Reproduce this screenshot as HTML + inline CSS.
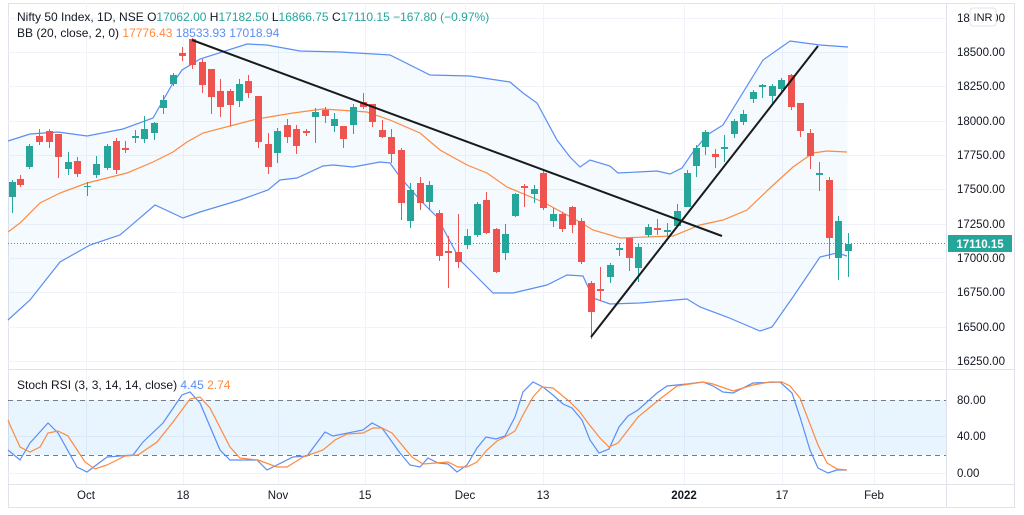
<!DOCTYPE html>
<html><head><meta charset="utf-8"><style>
html,body{margin:0;padding:0;background:#fff;width:1024px;height:515px;overflow:hidden}
svg{display:block;font-family:"Liberation Sans","DejaVu Sans",sans-serif}
</style></head><body>
<svg id="c" width="1024" height="515" viewBox="0 0 1024 515" xmlns="http://www.w3.org/2000/svg">
<rect x="0" y="0" width="1024" height="515" fill="#fff"/>
<rect x="8.5" y="3.5" width="1006" height="504" fill="none" stroke="#e0e3eb"/>
<g id="grid" stroke="#f0f3fa" stroke-width="1"></g>
<line x1="946.5" y1="3" x2="946.5" y2="508" stroke="#e0e3eb"/>
<line x1="8" y1="369.5" x2="1014" y2="369.5" stroke="#e0e3eb"/>
<line x1="8" y1="484.5" x2="1014" y2="484.5" stroke="#e0e3eb"/>
<polygon id="band" fill="#2196f3" fill-opacity="0.05"/>
<polyline id="mid" fill="none" stroke="#ff8a3d" stroke-width="1.2"/>
<polyline id="up" fill="none" stroke="#5b8ef5" stroke-width="1.2"/>
<polyline id="lo" fill="none" stroke="#5b8ef5" stroke-width="1.2"/>
<line x1="8" y1="243.5" x2="946" y2="243.5" stroke="#26a69a" stroke-dasharray="1,2"/>
<g id="candles"></g>
<line x1="192" y1="40" x2="722" y2="236" stroke="#1a1a1a" stroke-width="2"/>
<line x1="591" y1="337" x2="818" y2="46" stroke="#1a1a1a" stroke-width="2"/>
<rect x="8" y="400" width="938" height="55" fill="#2196f3" fill-opacity="0.1"/>
<line x1="8" y1="400.5" x2="946" y2="400.5" stroke="#787b86" stroke-dasharray="5,4"/>
<line x1="8" y1="455.5" x2="946" y2="455.5" stroke="#787b86" stroke-dasharray="5,4"/>
<polyline id="rk" fill="none" stroke="#5b8ef5" stroke-width="1.2"/>
<polyline id="rd" fill="none" stroke="#ff8a3d" stroke-width="1.2"/>
<g font-size="12" fill="#131722">
<text x="17" y="21">Nifty 50 Index, 1D, NSE <tspan fill="#131722">O</tspan><tspan fill="#26a69a">17062.00</tspan> H<tspan fill="#26a69a">17182.50</tspan> L<tspan fill="#26a69a">16866.75</tspan> C<tspan fill="#26a69a">17110.15</tspan> <tspan fill="#26a69a">−167.80 (−0.97%)</tspan></text>
<text x="17" y="37">BB (20, close, 2, 0) <tspan fill="#ff8a3d">17776.43</tspan> <tspan fill="#5b8ef5">18533.93</tspan> <tspan fill="#5b8ef5">17018.94</tspan></text>
<text x="17" y="389">Stoch RSI (3, 3, 14, 14, close) <tspan fill="#5b8ef5">4.45</tspan> <tspan fill="#ff8a3d">2.74</tspan></text>
</g>
<g font-size="11.5" fill="#131722">
<text x="957" y="22">18750.00</text>
<text x="957" y="56">18500.00</text>
<text x="957" y="90">18250.00</text>
<text x="957" y="125">18000.00</text>
<text x="957" y="159">17750.00</text>
<text x="957" y="193">17500.00</text>
<text x="957" y="228">17250.00</text>
<text x="957" y="262">17000.00</text>
<text x="957" y="296">16750.00</text>
<text x="957" y="331">16500.00</text>
<text x="957" y="365">16250.00</text>
<text x="957" y="404">80.00</text>
<text x="957" y="440">40.00</text>
<text x="957" y="477">0.00</text>
</g>
<rect x="970" y="8" width="26" height="18" rx="3" fill="#fff" stroke="#e0e3eb"/>
<text x="983" y="21" font-size="11" fill="#131722" text-anchor="middle">INR</text>
<rect x="948" y="235" width="64" height="17" fill="#26a69a"/>
<text x="980" y="248" font-size="11.5" font-weight="bold" fill="#fff" text-anchor="middle">17110.15</text>
<g font-size="11.5" fill="#131722" text-anchor="middle">
<text x="86" y="499">Oct</text><text x="183" y="499">18</text><text x="278" y="499">Nov</text>
<text x="365" y="499">15</text><text x="465" y="499">Dec</text><text x="543" y="499">13</text>
<text x="684" y="499" font-weight="bold">2022</text><text x="782" y="499">17</text><text x="874" y="499">Feb</text>
</g>
</svg>
<script>
var NS="http://www.w3.org/2000/svg";
function el(p,t,a){var e=document.createElementNS(NS,t);for(var k in a)e.setAttribute(k,a[k]);p.appendChild(e);return e;}
var g=document.getElementById('grid');
[17.7,52,86.3,120.6,155,189.3,223.6,258,292.3,326.6,361,436,473].forEach(function(y){el(g,'line',{x1:8,x2:946,y1:Math.round(y)+.5,y2:Math.round(y)+.5});});
[86,183,278,365,465,543,684,782,874].forEach(function(x){el(g,'line',{x1:x+.5,x2:x+.5,y1:3,y2:484});});
var up=[[8,141],[30,134],[58,132],[87,136],[123,129],[153,118],[173,83],[182,70],[200,59],[247,44],[267,45],[300,51],[340,52],[390,55],[430,75],[470,76],[510,82],[523,93],[537,103],[557,140],[570,157],[580,167],[590,160],[610,166],[618,173],[657,171],[670,174],[682,168],[693,152],[707,135],[723,125],[763,60],[790,41],[820,45],[848,47]];
var mid=[[8,232],[20,223],[40,203],[60,193],[87,183],[127,173],[153,162],[173,152],[187,142],[203,133],[230,126],[257,119],[293,113],[323,109],[353,111],[367,112],[390,120],[420,133],[440,150],[467,165],[487,173],[507,187],[543,202],[580,222],[593,230],[620,238],[673,236],[700,225],[723,220],[747,210],[770,188],[793,167],[813,153],[827,151],[847,152]];
var lo=[[8,320],[30,300],[60,262],[90,245],[120,235],[155,205],[183,218],[200,212],[240,200],[268,190],[280,180],[297,178],[323,166],[333,165],[353,167],[380,162],[390,163],[400,177],[420,200],[437,217],[460,260],[473,273],[493,293],[513,293],[547,285],[567,275],[583,276],[593,298],[610,304],[640,303],[687,299],[700,307],[727,317],[760,331],[772,327],[793,297],[820,257],[837,253],[847,256]];
function pts(a){return a.map(function(p){return p.join(',')}).join(' ');}
document.getElementById('up').setAttribute('points',pts(up));
document.getElementById('mid').setAttribute('points',pts(mid));
document.getElementById('lo').setAttribute('points',pts(lo));
document.getElementById('band').setAttribute('points',pts(up)+' '+pts(lo.slice().reverse()));
// x, wickTop, wickBot, bodyTop, bodyBot, color
var G='#26a69a',R='#ef5350';
var C=[[11.7,180,213,182,197,G],[20,175,187,179,185,R],[29.3,144,169,146,167,G],[39.3,129,145,136,142,R],[48.7,129,148,131,142,R],[58.3,134,178,134,157,R],[67.7,152,175,162,169,G],[77,157,177,161,174,R],[86.7,182,196,186,187,G],[96,156,178,164,175,G],[106.7,144,170,146,168,G],[116,138,174,141,170,R],[125.3,141,153,148,150,R],[135,130,143,136,138,G],[144.3,116,143,129,139,G],[154,122,140,123,133,G],[163.3,95,114,100,108,G],[172.7,73,86,75,84,G],[182.3,47,61,53,56,R],[191.7,38,69,39,65,R],[201.7,59,93,62,85,R],[211,69,114,69,97,R],[220.3,79,117,91,107,R],[229.7,89,126,91,105,R],[239,79,107,84,101,G],[248.3,75,98,81,93,R],[258.3,96,148,96,142,R],[267.7,133,174,144,167,R],[277,128,163,131,153,G],[286.7,119,143,125,137,R],[296,125,154,129,146,R],[305.7,129,136,131,133,R],[315,108,143,112,117,G],[325,107,123,110,116,R],[334,113,132,119,126,G],[343,126,148,126,139,R],[353,104,134,107,125,G],[363,93,109,102,107,R],[372,104,127,104,122,R],[382,120,138,130,137,R],[391,129,163,137,154,R],[401,148,220,150,203,R],[410,183,228,190,221,G],[420,177,210,183,203,R],[429,181,210,185,202,G],[439,210,261,213,256,R],[448,236,288,251,253,R],[458,214,268,252,262,R],[467,229,249,236,245,G],[477,202,237,204,235,G],[486,192,234,200,233,R],[496,228,273,229,272,R],[505,224,260,234,253,G],[515,193,217,194,216,G],[524,184,207,186,188,R],[534,185,203,189,194,G],[543,170,210,173,208,R],[553,208,227,214,221,G],[562,212,232,214,229,R],[572,206,233,207,225,R],[581,218,264,221,262,R],[591,281,339,283,312,R],[600,267,301,289,291,R],[610,263,283,265,277,G],[619,243,256,248,250,G],[629,238,271,238,258,R],[638,243,282,247,268,G],[648,224,237,227,235,G],[657,219,235,228,230,R],[667,223,237,230,232,G],[677,204,227,211,226,G],[687,170,207,173,207,G],[696,145,177,148,166,G],[705,130,155,132,147,G],[715,149,168,154,157,R],[724,135,162,147,149,G],[734,119,138,121,134,G],[743,110,125,114,122,G],[753,90,103,92,99,G],[762,84,98,85,87,G],[772,84,105,86,96,G],[781,78,92,80,89,G],[791,74,110,75,107,R],[800,103,137,103,131,R],[810,129,169,133,156,R],[819,162,191,173,175,G],[829,177,259,180,238,R],[838,216,280,221,258,G],[848,233,277,244,251,G]];
var cg=document.getElementById('candles');
C.forEach(function(c){var x=Math.round(c[0]);
el(cg,'line',{x1:x+.5,x2:x+.5,y1:c[1],y2:c[2],stroke:c[5],'stroke-width':1});
el(cg,'rect',{x:x-3,y:c[3],width:7,height:Math.max(1,c[4]-c[3]),fill:c[5]});});
var rk=[[8,450],[20,460],[30,443],[48,423],[58,433],[77,467],[87,472],[107,457],[133,455],[143,442],[163,423],[182,395],[190,392],[200,403],[220,450],[230,460],[257,460],[267,470],[293,457],[307,456],[325,432],[333,436],[363,430],[372,423],[382,428],[400,453],[410,465],[420,467],[428,458],[438,463],[448,464],[457,472],[467,465],[477,448],[486,437],[496,439],[505,436],[515,417],[523,392],[533,382],[543,387],[553,395],[563,404],[572,408],[582,420],[590,440],[599,453],[609,449],[619,427],[628,416],[638,410],[657,393],[667,386],[687,384],[703,382],[713,386],[723,392],[733,393],[753,383],[780,382],[792,393],[800,417],[810,450],[818,468],[828,473],[837,470],[847,470]];
var rd=[[8,420],[10,425],[20,447],[30,452],[40,447],[48,433],[58,431],[68,436],[85,462],[95,469],[107,465],[125,456],[138,455],[157,442],[173,422],[190,399],[200,397],[210,408],[230,447],[240,458],[258,460],[277,467],[287,467],[303,457],[323,450],[335,440],[347,434],[363,433],[373,428],[382,428],[392,433],[412,457],[423,464],[448,462],[458,467],[467,467],[477,462],[487,450],[497,441],[505,437],[515,431],[523,415],[533,397],[542,387],[553,388],[570,402],[580,412],[588,423],[600,438],[609,447],[618,443],[638,417],[660,399],[677,386],[703,382],[713,384],[733,391],[753,385],[770,382],[782,382],[790,386],[800,398],[818,445],[827,463],[837,469],[847,470]];
document.getElementById('rk').setAttribute('points',pts(rk));
document.getElementById('rd').setAttribute('points',pts(rd));
</script>
</body></html>
